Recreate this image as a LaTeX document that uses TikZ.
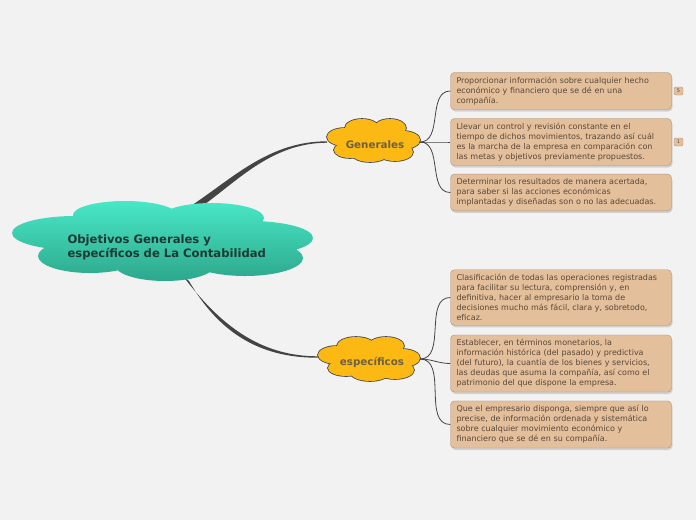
\documentclass[tikz,border=0pt]{standalone}
\usepackage{fontspec}
\setmainfont{DejaVu Sans}
\usetikzlibrary{shadows}
\definecolor{bgGrey}{HTML}{F2F2F2}
\definecolor{branchGrey}{HTML}{444444}
\definecolor{tealTop}{HTML}{48E8C6}
\definecolor{tealBottom}{HTML}{2DA78C}
\definecolor{titleInk}{HTML}{1E3832}
\definecolor{sunYellow}{HTML}{FDB913}
\definecolor{sunInk}{HTML}{6B6040}
\definecolor{boxTan}{HTML}{E4BF9C}
\definecolor{boxEdge}{HTML}{A8937F}
\definecolor{boxInk}{HTML}{5A4838}
\begin{document}
\begin{tikzpicture}[x=1pt,y=-1pt,
	branch/.style={fill=branchGrey},
	leaf line/.style={draw=branchGrey, line width=0.8pt},
	leafbox/.style={draw=boxEdge, fill=boxTan, rounded corners=4pt, text width=209pt,
		inner xsep=6pt, inner ysep=4.5pt, align=left, text=boxInk,
		font=\fontsize{8}{10}\selectfont,
		drop shadow={shadow xshift=1pt, shadow yshift=-2pt, fill=black!30}},
	badge/.style={draw=boxEdge, fill=boxTan, rounded corners=2pt, minimum width=9pt,
		minimum height=8pt, inner sep=0pt, text=boxInk, font=\fontsize{5}{5}\selectfont},
	subtopic/.style={font=\bfseries\fontsize{10.3}{12}\selectfont, text=sunInk}]
\fill[bgGrey] (0,0) rectangle (696,520);

% main branches
\fill[branch] (193,204.5) .. controls (234,177) and (270,141.3) .. (327,141.3)
	-- (327,142.7) .. controls (270,143) and (236,183) .. (198,209) -- cycle;
\fill[branch] (183,276) .. controls (220,325) and (260,356.3) .. (318,356.3)
	-- (318,357.7) .. controls (258,358) and (218,331) .. (189,281) -- cycle;

% central topic
\shade[top color=tealTop, bottom color=tealBottom]
	(75,233) ellipse [x radius=63, y radius=17]
	(125,215) ellipse [x radius=52, y radius=14]
	(212,218) ellipse [x radius=52, y radius=15]
	(250,238) ellipse [x radius=63, y radius=17]
	(90,256) ellipse [x radius=52, y radius=17]
	(165,265) ellipse [x radius=50, y radius=16]
	(245,258) ellipse [x radius=58, y radius=18]
	(160,242) ellipse [x radius=110, y radius=25];
\node[anchor=west, align=left, text=titleInk, font=\bfseries\fontsize{11.6}{14.5}\selectfont]
	(root) at (64,247.5) {Objetivos Generales y\\específicos de La Contabilidad};

% subtopic clouds
\foreach \cx/\cy/\rx/\ry in {345/137/18/9, 362/128/17/9, 390/128/16/9, 403/140/17/9,
		395/152/18/9, 370/154/18/8, 350/150/16/8, 373/141/35/14}
	\draw[branchGrey, line width=1.6pt] (\cx,\cy) ellipse [x radius=\rx, y radius=\ry];
\foreach \cx/\cy/\rx/\ry in {345/137/18/9, 362/128/17/9, 390/128/16/9, 403/140/17/9,
		395/152/18/9, 370/154/18/8, 350/150/16/8, 373/141/35/14}
	\fill[sunYellow] (\cx,\cy) ellipse [x radius=\rx, y radius=\ry];
\node[subtopic] (gen) at (375,145) {Generales};
\coordinate (gen-r) at (420,142);

\foreach \cx/\cy/\rx/\ry in {337/355/19/9, 356/346/19/9, 386/346/18/9, 402/358/18/9,
		395/370/19/9, 370/372/20/9, 346/368/18/8, 369/359/39/14}
	\draw[branchGrey, line width=1.6pt] (\cx,\cy) ellipse [x radius=\rx, y radius=\ry];
\foreach \cx/\cy/\rx/\ry in {337/355/19/9, 356/346/19/9, 386/346/18/9, 402/358/18/9,
		395/370/19/9, 370/372/20/9, 346/368/18/8, 369/359/39/14}
	\fill[sunYellow] (\cx,\cy) ellipse [x radius=\rx, y radius=\ry];
\node[subtopic] (esp) at (372,362) {específicos};
\coordinate (esp-r) at (420,359);

% leaves
\node[leafbox] (g1) at (561,91) {Proporcionar información sobre cualquier hecho\\económico y financiero que se dé en una\\compañía.};
\node[leafbox] (g2) at (561,142) {Llevar un control y revisión constante en el\\tiempo de dichos movimientos, trazando así cuál\\es la marcha de la empresa en comparación con\\las metas y objetivos previamente propuestos.};
\node[leafbox] (g3) at (561,192.5) {Determinar los resultados de manera acertada,\\para saber si las acciones económicas\\implantadas y diseñadas son o no las adecuadas.};
\node[leafbox] (e1) at (561,297.5) {Clasificación de todas las operaciones registradas\\para facilitar su lectura, comprensión y, en\\definitiva, hacer al empresario la toma de\\decisiones mucho más fácil, clara y, sobretodo,\\eficaz.};
\node[leafbox] (e2) at (561,363.5) {Establecer, en términos monetarios, la\\información histórica (del pasado) y predictiva\\(del futuro), la cuantía de los bienes y servicios,\\las deudas que asuma la compañía, así como el\\patrimonio del que dispone la empresa.};
\node[leafbox] (e3) at (561,424.5) {Que el empresario disponga, siempre que así lo\\precise, de información ordenada y sistemática\\sobre cualquier movimiento económico y\\financiero que se dé en su compañía.};

\node[badge] (n1) at (678.5,91) {5};
\node[badge] (n2) at (678.5,142) {1};

\foreach \leaf in {g1,g2,g3}
	\draw[leaf line] (gen-r) to[out=0, in=180] (\leaf.west);
\foreach \leaf in {e1,e2,e3}
	\draw[leaf line] (esp-r) to[out=0, in=180] (\leaf.west);
\end{tikzpicture}
\end{document}
